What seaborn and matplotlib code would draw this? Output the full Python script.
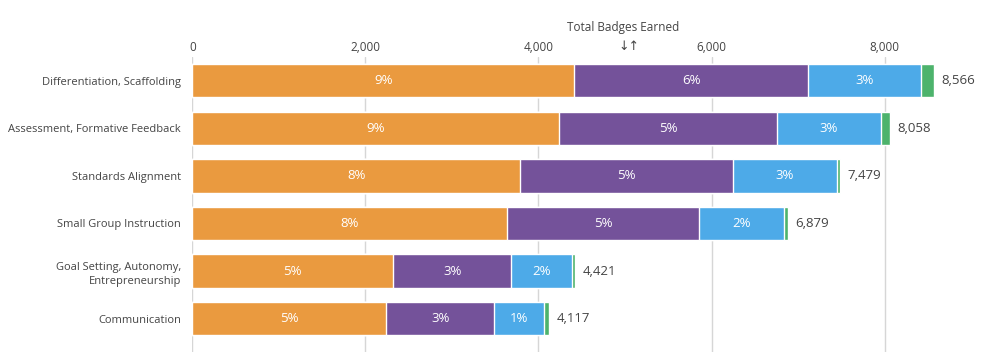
import numpy as np
import pandas as pd
import matplotlib.pyplot as plt
import seaborn as sns

sns.set_theme(style='white')
plt.rcParams['font.family'] = ['Open Sans', 'DejaVu Sans']

C_ORANGE = '#EA9A3F'
C_PURPLE = '#74529A'
C_BLUE = '#4DAAE8'
C_GREEN = '#4DB36C'
C_TEXT = '#444444'
C_GRID = '#D6D6D6'

# ===== data =====
categories = ['Differentiation, Scaffolding',
              'Assessment, Formative Feedback',
              'Standards Alignment',
              'Small Group Instruction',
              'Goal Setting, Autonomy,\nEntrepreneurship',
              'Communication']
seg_orange = [4416, 4243, 3792, 3642, 2324, 2243]
seg_purple = [2694, 2508, 2451, 2208, 1364, 1248]
seg_blue = [1306, 1203, 1202, 982, 705, 578]
seg_green = [150, 104, 34, 47, 28, 48]
totals = [8566, 8058, 7479, 6879, 4421, 4117]
pct_orange = ['9%', '9%', '8%', '8%', '5%', '5%']
pct_purple = ['6%', '5%', '5%', '5%', '3%', '3%']
pct_blue = ['3%', '3%', '3%', '2%', '2%', '1%']

segments = [seg_orange, seg_purple, seg_blue, seg_green]
colors = [C_ORANGE, C_PURPLE, C_BLUE, C_GREEN]
labels = [pct_orange, pct_purple, pct_blue, None]

cum = np.cumsum(np.array(segments), axis=0)
starts = cum - np.array(segments)

fig = plt.figure(figsize=(9.86, 3.54), dpi=100)
ax = fig.add_axes([0.195, 0.006, 0.79, 0.833])

# draw from the outermost cumulative segment inward
for i in range(len(segments) - 1, -1, -1):
    df = pd.DataFrame({'cat': categories, 'val': cum[i]})
    sns.barplot(data=df, y='cat', x='val', color=colors[i], orient='h',
                width=0.7, saturation=1, ax=ax, zorder=3)

# percentage labels
for i, lab in enumerate(labels):
    if lab is None:
        continue
    for j, txt in enumerate(lab):
        mid = starts[i][j] + segments[i][j] / 2
        ax.text(mid, j, txt, ha='center', va='center', color='white',
                fontsize=9.5, zorder=5)

# totals
for j, t in enumerate(totals):
    ax.text(t + 90, j, f'{t:,}', ha='left', va='center', color=C_TEXT,
            fontsize=9.5, zorder=5)

ax.set_xlim(0, 9000)
ax.set_ylim(5.7, -0.5)
ax.xaxis.tick_top()
ax.xaxis.set_label_position('top')
ax.set_xticks([0, 2000, 4000, 6000, 8000])
ax.set_xticklabels(['0', '2,000', '4,000', '6,000', '8,000'])
ax.tick_params(axis='x', labelcolor=C_TEXT, labelsize=8.5,
               length=0, pad=2, top=True)
ax.tick_params(axis='y', length=0, labelcolor=C_TEXT, labelsize=8, pad=8)
for lbl in ax.get_yticklabels():
    lbl.set_linespacing(1.45)
ax.grid(axis='x', color=C_GRID, linewidth=1, zorder=0)
ax.set_axisbelow(True)
for s in ax.spines.values():
    s.set_visible(False)
ax.set_xlabel('')
ax.set_ylabel('')

fig.text(0.632, 0.923, 'Total Badges Earned', ha='center', va='center',
         color=C_TEXT, fontsize=8.5)
ax.text(5050, 1.012, '\u2193\u2191', transform=ax.get_xaxis_transform(),
        ha='center', va='bottom', color=C_TEXT, fontsize=9,
        family=['DejaVu Sans'])

plt.savefig('out.png', dpi=100)
